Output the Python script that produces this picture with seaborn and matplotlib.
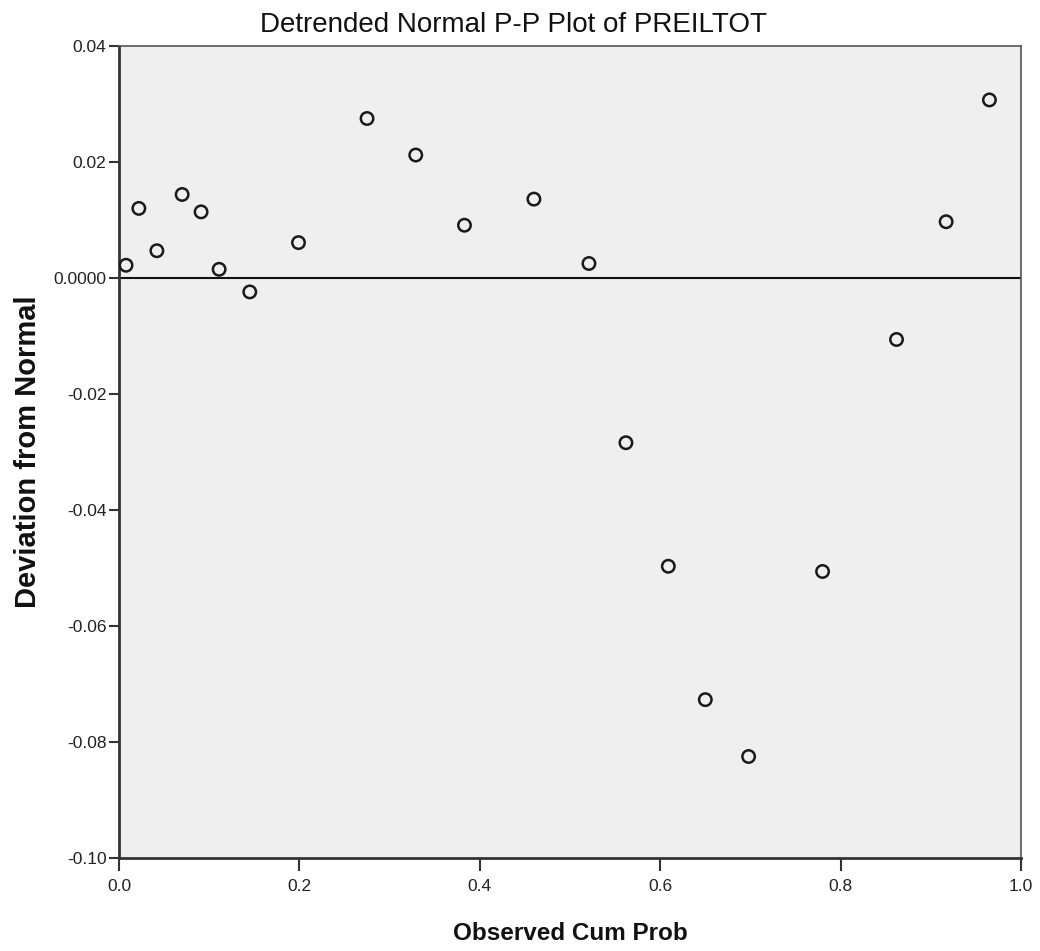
import matplotlib
matplotlib.use("Agg")
import matplotlib.pyplot as plt
import seaborn as sns
import pandas as pd

obs_cum_prob = [0.0078, 0.022, 0.042, 0.070, 0.091, 0.111, 0.145, 0.199, 0.275, 0.329,
                0.383, 0.460, 0.521, 0.562, 0.609, 0.650, 0.698, 0.780, 0.862, 0.917, 0.965]
deviation = [0.0022, 0.0120, 0.0047, 0.0144, 0.0114, 0.0015, -0.0024, 0.0061, 0.0275, 0.0212,
             0.0091, 0.0136, 0.0025, -0.0284, -0.0497, -0.0727, -0.0825, -0.0506, -0.0106, 0.0097, 0.0307]
x_ticks = [0.0, 0.2, 0.4, 0.6, 0.8, 1.0]
x_tick_labels = ["0.0", "0.2", "0.4", "0.6", "0.8", "1.0"]
y_ticks = [-0.10, -0.08, -0.06, -0.04, -0.02, 0.0, 0.02, 0.04]
y_tick_labels = ["-0.10", "-0.08", "-0.06", "-0.04", "-0.02", "0.0000", "0.02", "0.04"]

df = pd.DataFrame({"Observed Cum Prob": obs_cum_prob, "Deviation from Normal": deviation})

sns.set_style("white")
plt.rcParams['font.family'] = ['Liberation Sans', 'DejaVu Sans']

fig = plt.figure(figsize=(10.40, 9.51), dpi=100)
ax = fig.add_axes([119/1040, 1 - 858/951, (1021 - 119)/1040, (858 - 46)/951])
ax.set_facecolor("#efefef")

ax.axhline(0, color="#111111", linewidth=1.5, zorder=1)
sns.scatterplot(data=df, x="Observed Cum Prob", y="Deviation from Normal", ax=ax,
                marker="o", s=80, facecolor="none", edgecolor="#1a1a1a", linewidth=1.8, zorder=3)

ax.set_xlim(0, 1.0)
ax.set_ylim(-0.10, 0.04)
ax.set_xticks(x_ticks)
ax.set_xticklabels(x_tick_labels)
ax.set_yticks(y_ticks)
ax.set_yticklabels(y_tick_labels)
ax.tick_params(axis="both", direction="out", width=1.5, color="#333333",
               labelsize=12.5, labelcolor="#222222", left=True, bottom=True)
ax.tick_params(axis="x", length=9, pad=6)
ax.tick_params(axis="y", length=7, pad=2)

for side in ["left", "bottom"]:
    ax.spines[side].set_color("#333333")
    ax.spines[side].set_linewidth(2)
for side in ["top", "right"]:
    ax.spines[side].set_color("#555555")
    ax.spines[side].set_linewidth(1.2)

ax.set_xlabel("Observed Cum Prob", fontsize=17.5, fontweight="bold", labelpad=20, color="#111111")
ax.set_ylabel("Deviation from Normal", fontsize=21, fontweight="bold", labelpad=8, color="#111111")
ax.set_title("Detrended Normal P-P Plot of PREILTOT", fontsize=20, pad=10, color="#111111",
             x=0.437)

fig.savefig("out.png", dpi=100)
